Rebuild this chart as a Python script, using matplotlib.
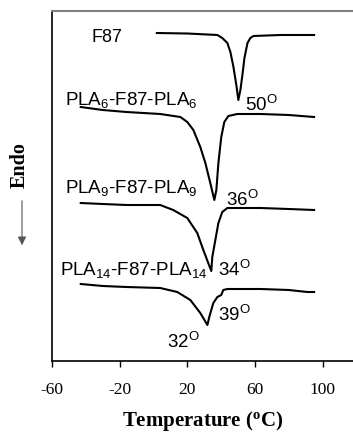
import matplotlib
matplotlib.use('Agg')
import matplotlib.pyplot as plt

plt.rcParams['font.family'] = 'Liberation Sans'
plt.rcParams['mathtext.default'] = 'regular'

# DSC traces: temperature (C) and heat flow (a.u., shifted)
T_F87 = [2, 20, 37.8, 40.7, 43.7, 45.5, 47.3, 49.0, 50.2, 51.4, 52.6, 53.8, 55.6, 57.3, 59.1, 75, 95]
Y_F87 = [328, 327.5, 326, 323, 318, 309, 294, 276, 261, 271, 286, 303, 318, 323, 325, 326, 326]

T_PLA6 = [-43, -30, -16, 4, 15.9, 20, 23.6, 27.7, 30.7, 33.6, 36, 37.2, 38.4, 40.1, 41.9,
          44.3, 49.6, 63.3, 80, 95]
Y_PLA6 = [254, 251, 249, 247, 244, 239, 231, 214, 198, 178, 161, 171, 198, 224, 239,
          245, 247, 247, 246, 244]

T_PLA9 = [-43, -30, -16, 4, 11.7, 20, 25.9, 29.5, 32.4, 34.2, 34.8, 36.6, 38.4, 40.7, 43.7,
          63.3, 80, 95]
Y_PLA9 = [158, 157, 156, 156, 151, 143, 128, 111, 98, 90, 104, 121, 138, 149, 153,
          153, 152, 151]

T_PLA14 = [-43, -30, -16, 4, 14.1, 21.8, 27.7, 31.9, 33.0, 35.4, 37.8, 40.1, 41.3, 43.7,
           63.3, 80, 91, 95]
Y_PLA14 = [77, 75, 74, 73, 69, 61, 48, 36, 44, 58, 64, 66, 71, 72,
           72, 71, 69, 69]

XTICKS = [-60, -20, 20, 60, 100]

fig = plt.figure(figsize=(3.53, 4.33), dpi=100)
ax = fig.add_axes([52 / 353, 1 - 361 / 433, 1 - 52 / 353, 350 / 433])

for t, y in [(T_F87, Y_F87), (T_PLA6, Y_PLA6), (T_PLA9, Y_PLA9), (T_PLA14, Y_PLA14)]:
    ax.plot(t, y, color='black', lw=1.5, solid_joinstyle='round')

ax.set_xlim(-60, 118)
ax.set_ylim(0, 350)
ax.set_xticks(XTICKS)
ax.set_xticklabels([str(v) for v in XTICKS], fontfamily='Liberation Serif', fontsize=12.5)
ax.set_yticks([])
ax.tick_params(axis='x', direction='out', length=4, width=1, pad=11)
ax.spines['right'].set_visible(False)
ax.spines['top'].set_color('#808080')
ax.spines['top'].set_linewidth(1.5)
ax.spines['left'].set_linewidth(1.2)
ax.spines['bottom'].set_linewidth(1.2)

# sample labels
ax.text(-36.5, 323, 'F87', fontsize=13, va='center')
ax.text(-52.5, 261, 'PLA$_6$-F87-PLA$_6$', fontsize=13.5, va='center')
ax.text(-52.5, 173, 'PLA$_9$-F87-PLA$_9$', fontsize=13.5, va='center')
ax.text(-55, 91, 'PLA$_{14}$-F87-PLA$_{14}$', fontsize=13.5, va='center')

# peak temperatures
ax.text(54, 256, '50$^{O}$', fontsize=13.5, va='center')
ax.text(43, 161, '36$^{O}$', fontsize=13.5, va='center')
ax.text(38, 91, '34$^{O}$', fontsize=13.5, va='center')
ax.text(38, 46, '39$^{O}$', fontsize=13.5, va='center')
ax.text(8, 19, '32$^{O}$', fontsize=13.5, va='center')

ax.set_xlabel('Temperature ($^{o}$C)', fontfamily='Liberation Serif',
              fontweight='bold', fontsize=15, labelpad=8)

fig.text(20 / 353, 1 - 165 / 433, 'Endo', rotation=90, fontfamily='Liberation Serif',
         fontweight='bold', fontsize=14.5, ha='center', va='center')
fig.add_artist(matplotlib.patches.FancyArrowPatch(
    (22 / 353, 1 - 198 / 433), (22 / 353, 1 - 248 / 433), transform=fig.transFigure,
    arrowstyle='-|>,head_length=5,head_width=2.5', color='#555555', lw=0.8,
    mutation_scale=1))

fig.savefig('out.png', dpi=100)
